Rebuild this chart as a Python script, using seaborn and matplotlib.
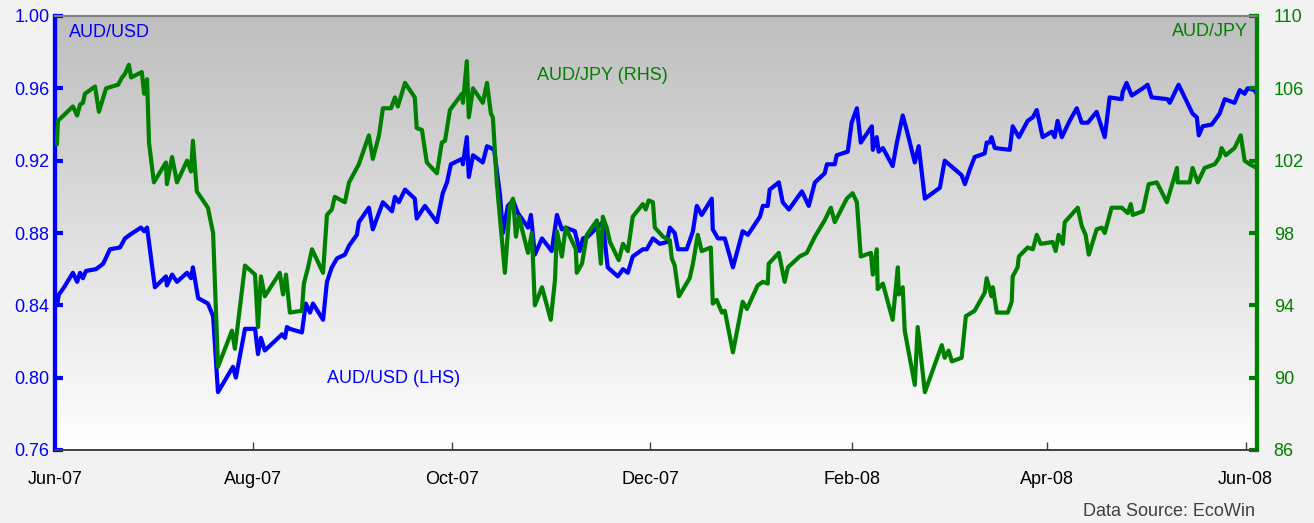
import numpy as np
import pandas as pd
import matplotlib
matplotlib.use("Agg")
import matplotlib.pyplot as plt
from matplotlib.colors import LinearSegmentedColormap
import seaborn as sns

# ---------------- data: (days since 1 Jun 2007, value) ----------------
usd_points = [
    (0.6, 0.840), (1.2, 0.846), (2.8, 0.850), (5.5, 0.858), (6.8, 0.853), (7.7, 0.858),
    (8.6, 0.855), (9.5, 0.859), (12.6, 0.860), (14.8, 0.863), (16.9, 0.871), (20.0, 0.872),
    (21.5, 0.877), (23.0, 0.879), (26.4, 0.883), (27.4, 0.881), (28.3, 0.883), (30.7, 0.850),
    (34.1, 0.856), (34.4, 0.851), (36.0, 0.857), (37.5, 0.853), (40.6, 0.858), (41.8, 0.855),
    (42.4, 0.861), (44.0, 0.844), (47.0, 0.841), (48.6, 0.834), (50.1, 0.792), (54.7, 0.806),
    (55.6, 0.800), (58.4, 0.827), (61.5, 0.827), (62.4, 0.813), (63.3, 0.822), (64.5, 0.815),
    (69.8, 0.824), (70.7, 0.822), (71.3, 0.828), (72.2, 0.827), (75.9, 0.825), (77.1, 0.841),
    (78.4, 0.836), (79.3, 0.841), (82.4, 0.832), (83.6, 0.853), (85.1, 0.861), (86.7, 0.866),
    (89.1, 0.868), (90.4, 0.873), (92.8, 0.879), (93.4, 0.886), (96.5, 0.894), (97.7, 0.882),
    (100.8, 0.897), (103.6, 0.892), (104.5, 0.900), (105.7, 0.897), (107.6, 0.904),
    (110.6, 0.899), (111.2, 0.888), (113.7, 0.895), (117.4, 0.886), (119.2, 0.902),
    (120.5, 0.908), (121.7, 0.918), (125.1, 0.921), (125.4, 0.918), (126.6, 0.933),
    (127.2, 0.911), (128.5, 0.923), (131.5, 0.919), (132.8, 0.928), (134.0, 0.927),
    (135.0, 0.926), (136.8, 0.901), (137.7, 0.880), (139.2, 0.895), (140.8, 0.898),
    (142.3, 0.891), (145.4, 0.883), (146.3, 0.890), (147.5, 0.868), (149.7, 0.877),
    (152.7, 0.870), (154.3, 0.890), (155.8, 0.882), (157.0, 0.883), (159.8, 0.881),
    (161.3, 0.870), (162.3, 0.877), (163.8, 0.878), (166.6, 0.883), (168.4, 0.886),
    (169.9, 0.861), (173.0, 0.856), (174.6, 0.860), (176.1, 0.858), (177.6, 0.867),
    (180.7, 0.871), (181.9, 0.871), (183.8, 0.877), (185.9, 0.874), (188.1, 0.875),
    (189.0, 0.883), (190.5, 0.880), (191.5, 0.871), (194.2, 0.871), (196.1, 0.881),
    (197.3, 0.895), (198.8, 0.890), (201.9, 0.899), (202.2, 0.882), (203.8, 0.877),
    (205.9, 0.877), (208.4, 0.861), (211.4, 0.881), (213.0, 0.879), (216.7, 0.889),
    (217.6, 0.895), (219.1, 0.895), (219.7, 0.904), (222.5, 0.908), (223.7, 0.897),
    (225.6, 0.893), (229.6, 0.903), (231.7, 0.895), (233.6, 0.908), (236.6, 0.913),
    (237.3, 0.918), (239.7, 0.918), (240.3, 0.923), (243.7, 0.925), (244.9, 0.941),
    (246.5, 0.949), (247.7, 0.930), (251.1, 0.939), (251.4, 0.926), (252.6, 0.933),
    (253.2, 0.925), (254.5, 0.927), (257.5, 0.917), (258.8, 0.930), (260.6, 0.945),
    (262.1, 0.935), (264.3, 0.919), (265.5, 0.928), (267.4, 0.899), (272.0, 0.905),
    (273.5, 0.920), (278.7, 0.912), (279.7, 0.907), (281.2, 0.915), (282.7, 0.922),
    (285.8, 0.924), (286.4, 0.930), (287.3, 0.930), (287.9, 0.933), (288.9, 0.927),
    (293.5, 0.926), (294.4, 0.939), (296.3, 0.933), (299.0, 0.942), (300.6, 0.944),
    (301.8, 0.948), (303.6, 0.933), (306.4, 0.936), (307.3, 0.933), (308.2, 0.942),
    (309.5, 0.933), (311.9, 0.942), (314.1, 0.949), (315.6, 0.941), (317.5, 0.941),
    (320.2, 0.947), (322.7, 0.933), (324.2, 0.955), (327.9, 0.954), (328.2, 0.958),
    (329.4, 0.963), (331.0, 0.956), (334.4, 0.960), (335.9, 0.962), (337.1, 0.955),
    (342.0, 0.954), (342.7, 0.952), (345.4, 0.962), (349.7, 0.946), (351.0, 0.944),
    (351.6, 0.934), (352.8, 0.939), (355.6, 0.940), (358.0, 0.946), (359.6, 0.954),
    (362.6, 0.952), (364.2, 0.959), (365.7, 0.957), (366.6, 0.960), (368.8, 0.959),
    (369.4, 0.957),
]

jpy_points = [
    (0.6, 102.9), (0.9, 104.2), (5.5, 105.0), (6.8, 104.5), (7.7, 105.1), (8.6, 105.2),
    (9.2, 105.7), (12.3, 106.1), (13.5, 104.7), (15.7, 106.0), (19.4, 106.2), (20.6, 106.6),
    (21.5, 106.8), (22.7, 107.3), (23.4, 106.6), (26.7, 106.9), (27.4, 105.7), (28.3, 106.5),
    (28.9, 103.0), (30.4, 100.8), (34.1, 101.9), (34.4, 100.7), (36.0, 102.2), (37.5, 100.8),
    (40.6, 102.0), (41.8, 101.4), (42.4, 103.1), (43.6, 100.3), (47.0, 99.4), (48.6, 98.0),
    (50.1, 90.6), (54.4, 92.6), (55.3, 91.6), (58.4, 96.2), (61.5, 95.7), (62.4, 92.8),
    (63.3, 95.6), (64.5, 94.5), (69.1, 95.8), (70.1, 94.6), (71.0, 95.7), (72.2, 93.6),
    (75.9, 93.7), (76.5, 95.2), (77.8, 96.1), (79.0, 97.1), (82.4, 95.8), (83.6, 99.0),
    (85.1, 99.3), (86.0, 100.0), (89.1, 99.7), (90.4, 100.8), (93.4, 101.8), (96.5, 103.4),
    (97.7, 102.1), (99.6, 103.4), (100.8, 104.9), (103.3, 104.9), (104.5, 105.5),
    (105.4, 105.0), (107.6, 106.3), (110.6, 105.5), (111.2, 103.8), (112.8, 103.7),
    (114.3, 101.9), (117.4, 101.3), (118.9, 103.0), (119.9, 103.1), (121.4, 104.8),
    (125.1, 105.7), (125.4, 105.2), (126.6, 107.5), (127.2, 104.4), (128.5, 106.0),
    (131.5, 105.2), (132.8, 106.3), (134.0, 104.6), (134.6, 104.4), (135.8, 100.8),
    (138.3, 95.8), (139.8, 99.5), (140.8, 99.9), (141.7, 97.8), (142.6, 98.9), (145.4, 96.9),
    (146.6, 98.0), (147.5, 94.0), (149.7, 95.0), (152.4, 93.2), (153.7, 95.4), (154.3, 98.1),
    (155.8, 96.7), (157.0, 98.3), (160.1, 97.1), (160.4, 95.8), (162.0, 96.3), (163.5, 97.9),
    (166.6, 98.7), (167.8, 96.3), (168.4, 98.9), (169.6, 98.3), (170.6, 97.5), (173.3, 96.5),
    (174.6, 97.4), (176.1, 97.0), (177.6, 98.9), (180.7, 99.6), (181.6, 99.3), (182.5, 99.8),
    (183.8, 99.7), (184.4, 98.3), (186.9, 97.8), (189.0, 97.6), (189.6, 96.6), (190.5, 96.2),
    (191.8, 94.5), (195.1, 95.5), (196.1, 96.3), (197.6, 97.9), (198.8, 97.0), (201.6, 97.2),
    (202.2, 94.1), (203.4, 94.3), (205.0, 93.6), (205.9, 93.7), (208.4, 91.4), (211.4, 94.2),
    (212.7, 93.8), (216.0, 95.1), (217.6, 95.3), (219.1, 95.2), (219.4, 96.3), (222.5, 96.9),
    (224.3, 95.3), (225.3, 96.1), (228.9, 96.7), (231.1, 96.9), (233.6, 97.8), (236.6, 98.7),
    (238.5, 99.4), (239.7, 98.6), (243.4, 99.9), (245.2, 100.2), (246.5, 99.7), (247.7, 96.7),
    (250.8, 96.9), (251.4, 95.7), (252.6, 97.1), (252.9, 94.9), (254.5, 95.2), (257.5, 93.2),
    (259.1, 96.1), (259.4, 94.6), (260.6, 95.0), (261.2, 92.6), (264.3, 89.6), (265.2, 92.8),
    (267.4, 89.2), (272.6, 91.8), (273.5, 91.1), (274.7, 91.5), (275.7, 90.9), (278.7, 91.1),
    (280.0, 93.4), (282.7, 93.7), (285.8, 94.7), (286.4, 95.5), (287.9, 94.5), (288.3, 95.0),
    (289.5, 93.6), (292.9, 93.6), (294.1, 94.2), (294.4, 95.6), (295.9, 96.1), (296.3, 96.7),
    (299.0, 97.2), (300.6, 97.1), (301.8, 97.9), (303.0, 97.4), (306.7, 97.5), (307.6, 97.0),
    (308.5, 97.9), (309.8, 97.4), (310.4, 98.6), (314.4, 99.4), (315.6, 98.4), (316.8, 97.9),
    (317.8, 96.8), (320.2, 98.2), (321.8, 98.3), (322.7, 98.0), (324.8, 99.4), (327.9, 99.4),
    (329.8, 99.1), (330.7, 99.6), (331.3, 99.0), (334.4, 99.2), (336.2, 100.7),
    (338.7, 100.8), (341.8, 99.7), (344.9, 101.6), (345.1, 100.8), (348.8, 100.8),
    (349.7, 101.6), (351.3, 100.8), (353.4, 101.6), (356.5, 101.8), (358.0, 102.2),
    (358.6, 102.7), (359.9, 102.3), (362.6, 102.7), (364.5, 103.4), (365.7, 102.0),
    (367.3, 101.8), (369.4, 101.6),
]

usd_days = [p[0] for p in usd_points]
usd_vals = [p[1] for p in usd_points]
jpy_days = [p[0] for p in jpy_points]
jpy_vals = [p[1] for p in jpy_points]

x_tick_labels = ["Jun-07", "Aug-07", "Oct-07", "Dec-07", "Feb-08", "Apr-08", "Jun-08"]
x_tick_dates = ["2007-06-01", "2007-08-01", "2007-10-01", "2007-12-01",
                "2008-02-01", "2008-04-01", "2008-06-01"]
usd_ticks = [0.76, 0.80, 0.84, 0.88, 0.92, 0.96, 1.00]
jpy_ticks = [86, 90, 94, 98, 102, 106, 110]

# ---------------- build frames ----------------
base = pd.Timestamp("2007-06-01")
usd_df = pd.DataFrame({"date": base + pd.to_timedelta(usd_days, unit="D"),
                       "value": usd_vals})
jpy_df = pd.DataFrame({"date": base + pd.to_timedelta(jpy_days, unit="D"),
                       "value": jpy_vals})

sns.set_theme(style="white")
plt.rcParams["font.family"] = ["Liberation Sans", "DejaVu Sans"]

BLUE = "#0000FF"
GREEN = "#008000"
W, H = 1314, 523
fig = plt.figure(figsize=(W / 100, H / 100), dpi=100)
fig.patch.set_facecolor("#F2F2F2")

L, R, T, B = 55, 1257, 16, 450
ax = fig.add_axes([L / W, 1 - B / H, (R - L) / W, (B - T) / H])

# gradient background
grad = np.linspace(0, 1, 256).reshape(-1, 1)
cmap = LinearSegmentedColormap.from_list("bg", ["#BEBEBE", "#FFFFFF"])
ax.imshow(grad, extent=[0, 1, 0, 1], transform=ax.transAxes, aspect="auto",
          cmap=cmap, origin="upper", zorder=0)

sns.lineplot(data=usd_df, x="date", y="value", ax=ax, color=BLUE, linewidth=3.0,
             zorder=3, sort=False)
ax2 = ax.twinx()
sns.lineplot(data=jpy_df, x="date", y="value", ax=ax2, color=GREEN, linewidth=3.0,
             zorder=3, sort=False)

x0 = base
x1 = base + pd.Timedelta(days=369.5)
ax.set_xlim(x0, x1)
ax.set_ylim(0.76, 1.00)
ax2.set_ylim(86, 110)

for a in (ax, ax2):
    a.set_xlabel("")
    a.set_ylabel("")

ax.set_xticks(pd.to_datetime(x_tick_dates))
ax.set_xticklabels(x_tick_labels)
ax.set_yticks(usd_ticks)
ax.set_yticklabels([f"{v:.2f}" for v in usd_ticks])
ax2.set_yticks(jpy_ticks)
ax2.set_yticklabels([str(v) for v in jpy_ticks])

FS = 13
ax.tick_params(axis="x", direction="in", length=6, width=1, color="#404040",
               labelsize=FS, labelcolor="black", pad=15, bottom=True)
ax.tick_params(axis="y", direction="in", length=6, width=3, color=BLUE,
               labelsize=FS, labelcolor=BLUE, pad=4, left=True)
ax2.tick_params(axis="y", direction="in", length=6, width=3, color=GREEN,
                labelsize=FS, labelcolor=GREEN, pad=12, right=True)

for a in (ax, ax2):
    a.spines["top"].set_color("#808080")
    a.spines["top"].set_linewidth(1.5)
    a.spines["bottom"].set_color("#404040")
    a.spines["bottom"].set_linewidth(1.2)
    a.spines["left"].set_color(BLUE)
    a.spines["left"].set_linewidth(3.0)
    a.spines["right"].set_color(GREEN)
    a.spines["right"].set_linewidth(3.0)
    a.grid(False)

ax2.patch.set_visible(False)

TS = 13
ax.text(0.0116, 0.961, "AUD/USD", transform=ax.transAxes, color=BLUE,
        fontsize=TS, ha="left", va="center")
ax.text(0.9925, 0.965, "AUD/JPY", transform=ax.transAxes, color=GREEN,
        fontsize=TS, ha="right", va="center")
ax.text(0.401, 0.862, "AUD/JPY (RHS)", transform=ax.transAxes, color=GREEN,
        fontsize=TS, ha="left", va="center")
ax.text(0.2263, 0.1636, "AUD/USD (LHS)", transform=ax.transAxes, color=BLUE,
        fontsize=TS, ha="left", va="center")
fig.text(1255 / W, 1 - 512 / H, "Data Source: EcoWin", color="#404040",
         fontsize=TS, ha="right", va="center")

fig.savefig("out.png", dpi=100, facecolor=fig.get_facecolor())
